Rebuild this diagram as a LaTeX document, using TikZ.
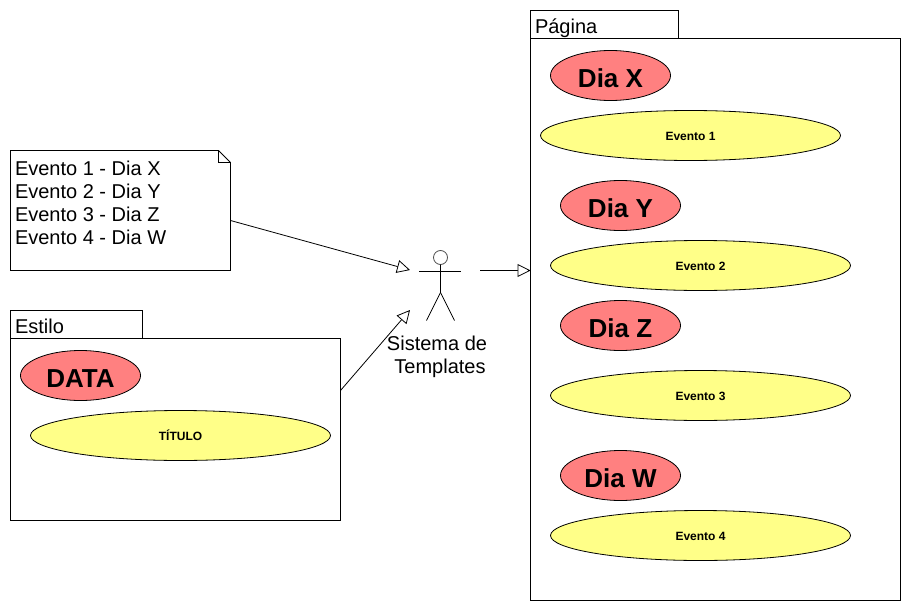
\documentclass[tikz,border=0pt]{standalone}
\usepackage{fontspec}
\setmainfont{Liberation Sans}
\usetikzlibrary{arrows.meta,shapes.geometric}
\newcommand\daytext[1]{\raisebox{-12.4pt}[0pt][0pt]{#1}}
\newcommand\evtext[1]{\raisebox{-5.3pt}[0pt][0pt]{#1}}
\tikzset{
  x=1pt,y=-1pt,
  every path/.style={line width=0.8pt},
  boxshape/.style={draw=black,line width=0.8pt,fill=white,inner sep=0pt,outer sep=0pt,anchor=north west},
  dayel/.style={draw=black,line width=0.8pt,fill=dayred,ellipse,inner sep=0pt,outer sep=0pt,minimum width=120pt,minimum height=50pt,font=\fontsize{26}{30}\selectfont\bfseries},
  evel/.style={draw=black,line width=0.8pt,fill=evyellow,ellipse,inner sep=0pt,outer sep=0pt,minimum width=300pt,minimum height=50pt,font=\fontsize{12}{14}\selectfont\bfseries},
  lbl/.style={inner sep=0pt,outer sep=0pt,font=\fontsize{20}{23}\selectfont},
  opentip/.style={-{Triangle[open,fill=white,length=13pt,width=13pt]}}
}
\definecolor{dayred}{HTML}{FF8080}
\definecolor{evyellow}{HTML}{FFFF88}
\begin{document}
\begin{tikzpicture}
\useasboundingbox (0,0) rectangle (910,610);
% note
\node[boxshape,minimum width=220pt,minimum height=120pt] (note) at (10.5,150.5) {};
\fill[white] (218.5,150) rectangle (231.5,163);
\draw (10.5,150.5) -- (218.5,150.5) -- (230.5,162.5) -- (230.5,270.5);
\draw (218.5,150.5) -- (218.5,162.5) -- (230.5,162.5);
\node[lbl,anchor=north west,align=left] (notetext) at (15,161) {Evento 1 - Dia X\\Evento 2 - Dia Y\\Evento 3 - Dia Z\\Evento 4 - Dia W};
% Estilo package
\node[boxshape,minimum width=132pt,minimum height=28pt] (estilotab) at (10.5,310.5) {};
\node[boxshape,minimum width=330pt,minimum height=182pt] (estilo) at (10.5,338.5) {};
\node[lbl,anchor=base west] (estilolabel) at (15,333) {Estilo};
\node[dayel] (data) at (80.5,375.5) {\daytext{DATA}};
\node[evel] (titulo) at (180.5,435.5) {\evtext{TÍTULO}};
% Pagina package
\node[boxshape,minimum width=148pt,minimum height=28pt] (paginatab) at (530.5,10.5) {};
\node[boxshape,minimum width=370pt,minimum height=562pt] (pagina) at (530.5,38.5) {};
\node[lbl,anchor=base west] (paginalabel) at (535,33.5) {Página};
\node[dayel] (diax) at (610.5,75.5) {\daytext{Dia X}};
\node[evel] (ev1) at (690.5,135.5) {\evtext{Evento 1}};
\node[dayel] (diay) at (620.5,205.5) {\daytext{Dia Y}};
\node[evel] (ev2) at (700.5,265.5) {\evtext{Evento 2}};
\node[dayel] (diaz) at (620.5,325.5) {\daytext{Dia Z}};
\node[evel] (ev3) at (700.5,395.5) {\evtext{Evento 3}};
\node[dayel] (diaw) at (620.5,475.5) {\daytext{Dia W}};
\node[evel] (ev4) at (700.5,535.5) {\evtext{Evento 4}};
% actor
\node[draw=black!70,line width=0.8pt,circle,inner sep=0pt,outer sep=0pt,minimum size=14pt] (head) at (440.5,257.5) {};
\coordinate (hip) at (440.5,292.5);
\coordinate (leftfoot) at (426.5,320.5);
\coordinate (rightfoot) at (454.5,320.5);
\coordinate (leftarm) at (419,271);
\coordinate (rightarm) at (461,271);
\draw (head.south) -- (hip) -- (leftfoot);
\draw (hip) -- (rightfoot);
\draw (leftarm) -- (rightarm);
\node[lbl,align=center] (actorlabel) at (440,357) {\hspace*{-6pt}Sistema de\\Templates};
% connectors
\coordinate (intop) at (410,270);
\coordinate (inbottom) at (410,310);
\coordinate (outstart) at (480,270.5);
\draw[opentip] ([yshift=-10pt]note.east) -- (intop);
\draw[opentip] ([yshift=39pt]estilo.east) -- (inbottom);
\draw[opentip] (outstart) -- (pagina.west |- outstart);
\end{tikzpicture}
\end{document}
